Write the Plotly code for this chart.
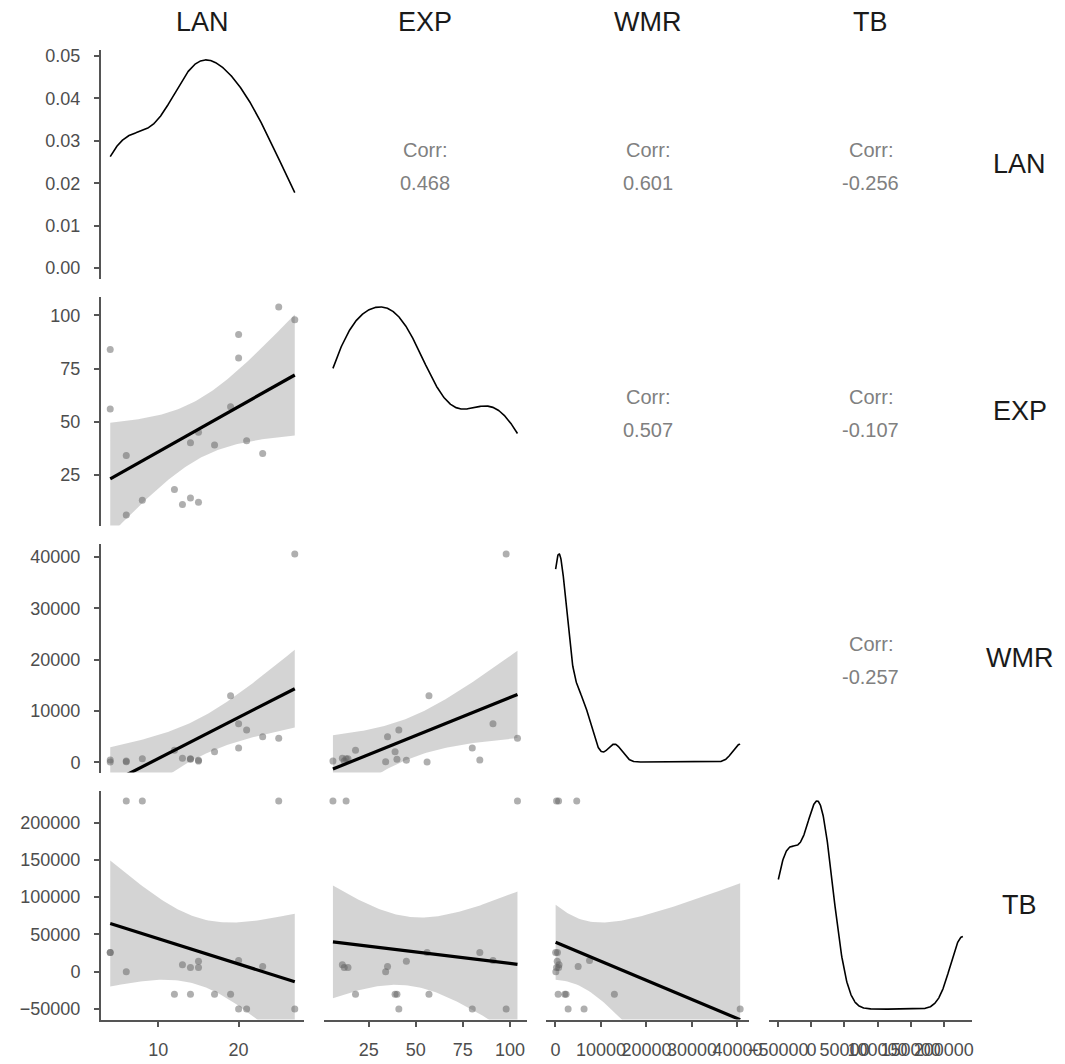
import numpy as np
import plotly.graph_objects as go

variables = ["LAN", "EXP", "WMR", "TB"]
LAN = [4, 4, 6, 6, 8, 12, 13, 14, 15, 14, 15, 17, 19, 20, 20, 21, 23, 25, 27]
EXP = [84, 56, 34, 6, 13, 18, 11, 14, 12, 40, 45, 39, 57, 91, 80, 41, 35, 104, 98]
WMR = [450, 50, 100, 250, 700, 2350, 800, 700, 250, 600, 400, 2070, 12960, 7500, 2800, 6300, 5000, 4690, 40600]
TB = [26000, 26000, 0, 229000, 229000, -30000, 9500, 5800, 5800, -30000, 14000, -30000,
      -30000, 15000, -50000, -50000, 7000, 229000, -50000]

corr_labels = {(0, 1): "0.468", (0, 2): "0.601", (0, 3): "-0.256",
               (1, 2): "0.507", (1, 3): "-0.107", (2, 3): "-0.257"}

tick_vals = {
    "LAN": [10, 20],
    "EXP": [25, 50, 75, 100],
    "WMR": [0, 10000, 20000, 30000, 40000],
    "TB": [-50000, 0, 50000, 100000, 150000, 200000],
}
dens_ticks = [0.00, 0.01, 0.02, 0.03, 0.04, 0.05]

data = {"LAN": np.array(LAN, float), "EXP": np.array(EXP, float),
        "WMR": np.array(WMR, float), "TB": np.array(TB, float)}

W, H = 1065, 1064
col_px = [(101, 304), (323.7, 526.7), (546.4, 749.4), (769.1, 972.1)]
row_px = [(49.5, 278.5), (296.5, 525.5), (543.5, 772.5), (790.5, 1019.5)]

FONT = "Liberation Sans, Arial, sans-serif"
AXC = "#555555"


def fmt(v):
    s = f"{v:g}" if abs(v) < 1 else str(int(v))
    return s.replace("-", "\u2212")


def bw_nrd0(x):
    n = len(x)
    sd = np.std(x, ddof=1)
    q75, q25 = np.percentile(x, [75, 25])
    lo = min(sd, (q75 - q25) / 1.34)
    return 0.9 * lo * n ** -0.2


def kde(x):
    bw = bw_nrd0(x)
    xs = np.linspace(x.min(), x.max(), 512)
    d = np.exp(-0.5 * ((xs[:, None] - x[None, :]) / bw) ** 2).sum(1)
    d /= (len(x) * bw * np.sqrt(2 * np.pi))
    return xs, d


def lmfit(x, y):
    n = len(x)
    xb, yb = x.mean(), y.mean()
    sxx = ((x - xb) ** 2).sum()
    b = ((x - xb) * (y - yb)).sum() / sxx
    a = yb - b * xb
    s = np.sqrt(((y - a - b * x) ** 2).sum() / (n - 2))
    xs = np.linspace(x.min(), x.max(), 80)
    fit = a + b * xs
    se = s * np.sqrt(1 / n + (xs - xb) ** 2 / sxx)
    t = 2.109816  # t quantile 0.975, df = 17
    return xs, fit, fit - t * se, fit + t * se


def rng(x):
    r = x.max() - x.min()
    return [x.min() - 0.05 * r, x.max() + 0.05 * r]


fig = go.Figure()
layout = {}
annotations = []

for i, vy in enumerate(variables):
    for j, vx in enumerate(variables):
        k = i * 4 + j + 1
        xa = "x" if k == 1 else f"x{k}"
        ya = "y" if k == 1 else f"y{k}"
        xkey = "xaxis" if k == 1 else f"xaxis{k}"
        ykey = "yaxis" if k == 1 else f"yaxis{k}"
        x = data[vx]
        y = data[vy]
        xr = rng(x)
        yr = rng(y)
        if i == j:
            xs, d = kde(x)
            fig.add_trace(go.Scatter(x=xs, y=d, mode="lines", xaxis=xa, yaxis=ya,
                                     line=dict(color="black", width=1.6),
                                     hoverinfo="skip", showlegend=False))
            yr = [-0.05 * d.max(), 1.05 * d.max()]
        elif i > j:
            xs, fit, lo, hi = lmfit(x, y)
            fig.add_trace(go.Scatter(x=np.concatenate([xs, xs[::-1]]),
                                     y=np.concatenate([hi, lo[::-1]]),
                                     fill="toself", fillcolor="rgba(153,153,153,0.42)",
                                     line=dict(width=0), mode="lines",
                                     xaxis=xa, yaxis=ya, hoverinfo="skip", showlegend=False))
            fig.add_trace(go.Scatter(x=x, y=y, mode="markers", xaxis=xa, yaxis=ya,
                                     marker=dict(size=7, color="rgba(95,95,95,0.5)",
                                                 line=dict(width=0)),
                                     hoverinfo="skip", showlegend=False))
            fig.add_trace(go.Scatter(x=xs, y=fit, mode="lines", xaxis=xa, yaxis=ya,
                                     line=dict(color="black", width=3.2),
                                     hoverinfo="skip", showlegend=False))
        else:
            cx = (col_px[j][0] + col_px[j][1]) / 2
            cy = (row_px[i][0] + row_px[i][1]) / 2
            for txt, dy in (("Corr:", -14), (corr_labels[(i, j)], 19)):
                annotations.append(dict(x=cx / W, y=1 - (cy + dy) / H, xref="paper", yref="paper",
                                        text=txt, showarrow=False, xanchor="center", yanchor="middle",
                                        font=dict(family=FONT, size=20, color="#808080")))
            fig.add_trace(go.Scatter(x=[None], y=[None], xaxis=xa, yaxis=ya,
                                     showlegend=False, hoverinfo="skip"))

        xdom = [col_px[j][0] / W, col_px[j][1] / W]
        ydom = [1 - row_px[i][1] / H, 1 - row_px[i][0] / H]
        show_x = (i == 3)
        show_y = (j == 0)
        xaxis = dict(domain=xdom, range=xr, anchor=ya, showgrid=False, zeroline=False,
                     showline=show_x, linecolor=AXC, linewidth=2,
                     ticks="outside" if show_x else "", ticklen=5, tickwidth=2, tickcolor=AXC,
                     showticklabels=show_x, tickvals=tick_vals[vx],
                     ticktext=[fmt(v) for v in tick_vals[vx]], tickangle=0, automargin=False,
                     tickfont=dict(family=FONT, size=18, color="#4d4d4d"),
                     ticklabelstandoff=8, fixedrange=True)
        if i == 0 and j == 0:
            tv, tt = dens_ticks, [f"{v:.2f}" for v in dens_ticks]
        else:
            tv, tt = tick_vals[vy], [fmt(v) for v in tick_vals[vy]]
        yaxis = dict(domain=ydom, range=yr, anchor=xa, showgrid=False, zeroline=False,
                     showline=show_y, linecolor=AXC, linewidth=2,
                     ticks="outside" if show_y else "", ticklen=5, tickwidth=2, tickcolor=AXC,
                     showticklabels=show_y, tickvals=tv, ticktext=tt, automargin=False,
                     tickfont=dict(family=FONT, size=18, color="#4d4d4d"),
                     ticklabelstandoff=10, fixedrange=True)
        layout[xkey] = xaxis
        layout[ykey] = yaxis

for j, v in enumerate(variables):
    cx = (col_px[j][0] + col_px[j][1]) / 2
    annotations.append(dict(x=cx / W, y=1 - 22 / H, xref="paper", yref="paper", text=v,
                            showarrow=False, xanchor="center", yanchor="middle",
                            font=dict(family=FONT, size=27, color="#1a1a1a")))
for i, v in enumerate(variables):
    cy = (row_px[i][0] + row_px[i][1]) / 2
    annotations.append(dict(x=1020 / W, y=1 - cy / H, xref="paper", yref="paper", text=v,
                            showarrow=False, xanchor="center", yanchor="middle",
                            font=dict(family=FONT, size=27, color="#1a1a1a")))

fig.update_layout(width=W, height=H, margin=dict(l=0, r=0, t=0, b=0, autoexpand=False),
                  paper_bgcolor="white", plot_bgcolor="white",
                  annotations=annotations, showlegend=False, **layout)
fig.write_html("out.html")
